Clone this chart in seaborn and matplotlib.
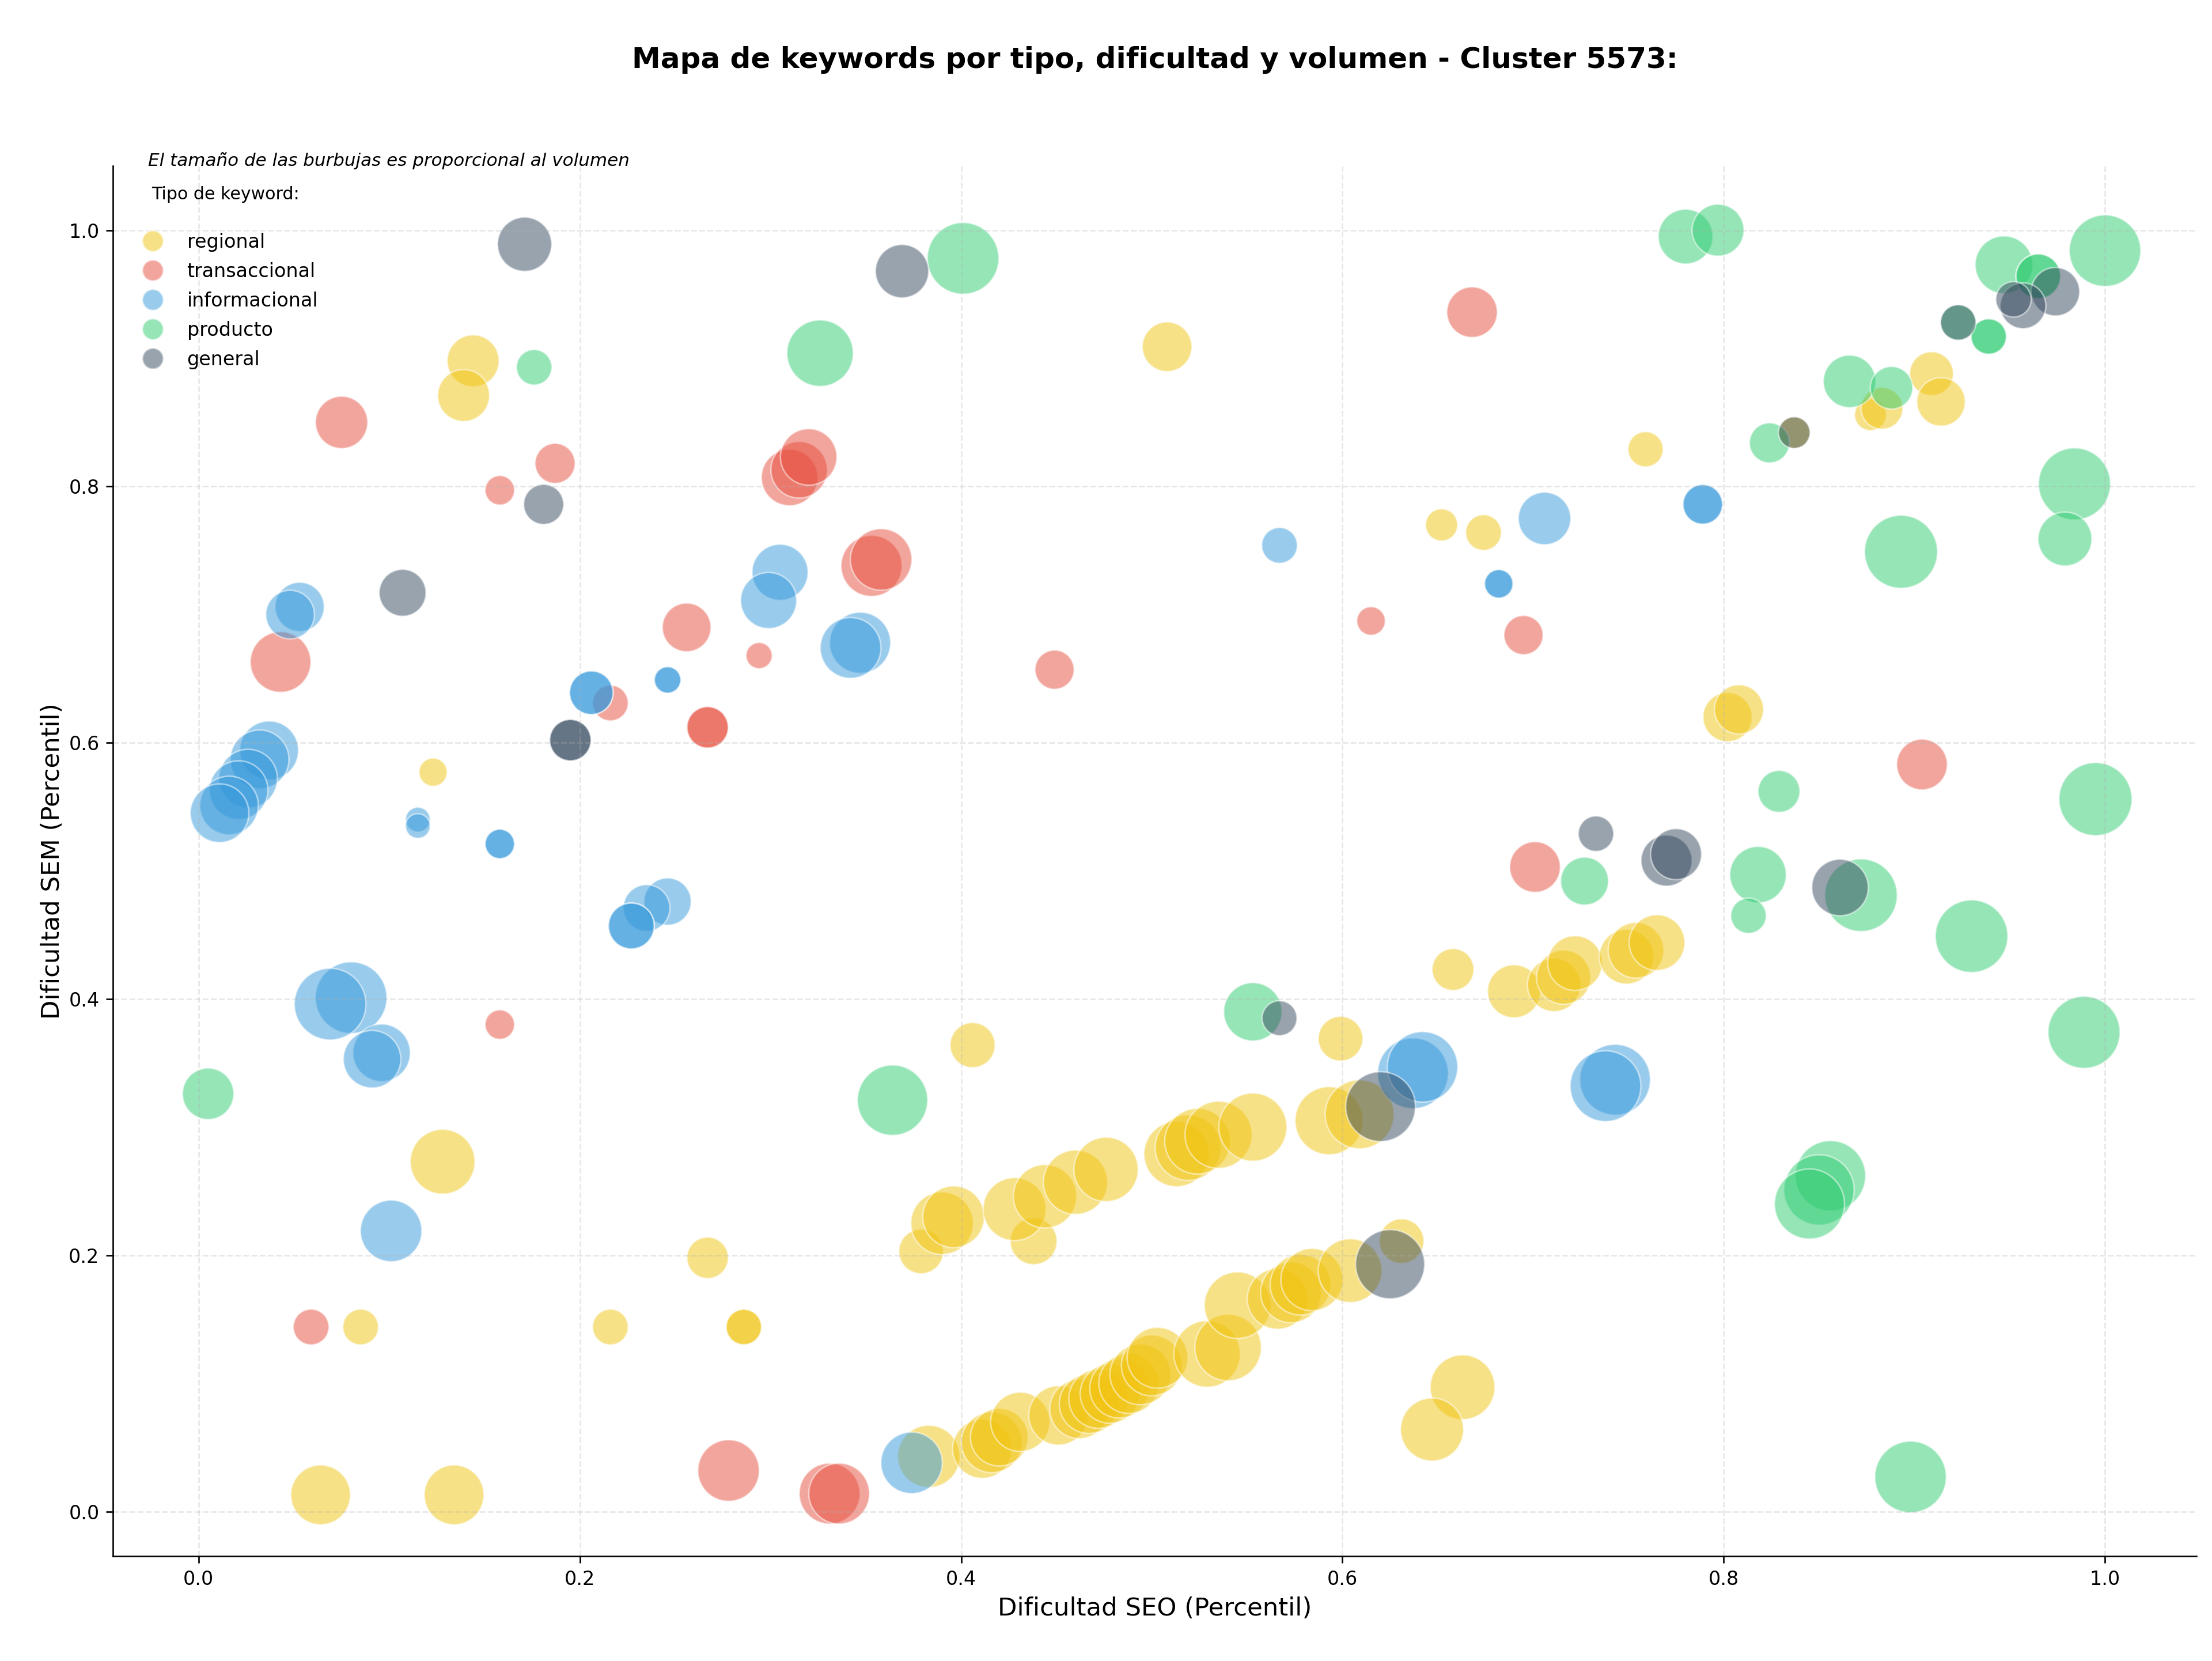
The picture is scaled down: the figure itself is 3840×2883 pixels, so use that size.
import pandas as pd
import numpy as np
import seaborn as sns
import matplotlib.pyplot as plt
from matplotlib.lines import Line2D

# datos (percentiles SEO / SEM y volumen relativo)
tipos = ['regional', 'transaccional', 'informacional', 'producto', 'general']
colores = {'regional': '#f1c40f', 'transaccional': '#e74c3c',
           'informacional': '#3498db', 'producto': '#2ecc71', 'general': '#34495e'}

regional_seo = [0.144, 0.139, 0.508, 0.123, 0.128, 0.267, 0.085, 0.216, 0.286, 0.286, 0.064, 0.134, 0.383,
                0.411, 0.416, 0.420, 0.431, 0.451, 0.462, 0.467, 0.472, 0.478, 0.483, 0.488, 0.494, 0.500,
                0.503, 0.529, 0.540, 0.545, 0.566, 0.573, 0.578, 0.584, 0.604, 0.631, 0.663, 0.647,
                0.379, 0.438, 0.390, 0.396, 0.428, 0.444, 0.460, 0.476, 0.513, 0.519, 0.524, 0.535, 0.553,
                0.593, 0.609,
                0.406, 0.599, 0.658, 0.690, 0.711, 0.716, 0.722, 0.749, 0.754, 0.765, 0.802, 0.808, 0.652,
                0.674, 0.759, 0.877, 0.883, 0.909, 0.914, 0.837]
regional_sem = [0.898, 0.871, 0.909, 0.577, 0.273, 0.198, 0.144, 0.144, 0.144, 0.144, 0.013, 0.013, 0.043,
                0.049, 0.054, 0.058, 0.070, 0.075, 0.080, 0.084, 0.088, 0.092, 0.096, 0.100, 0.107, 0.114,
                0.120, 0.123, 0.128, 0.161, 0.166, 0.171, 0.177, 0.181, 0.188, 0.211, 0.097, 0.064,
                0.203, 0.211, 0.225, 0.230, 0.236, 0.246, 0.257, 0.267, 0.279, 0.284, 0.289, 0.294, 0.300,
                0.305, 0.310,
                0.364, 0.369, 0.423, 0.406, 0.411, 0.417, 0.428, 0.433, 0.438, 0.444, 0.620, 0.626, 0.770,
                0.764, 0.829, 0.856, 0.861, 0.888, 0.866, 0.842]
regional_vol = [730, 730, 665, 215, 1135, 465, 345, 345, 340, 340, 965, 965, 1050,
                950, 1000, 900, 950, 950, 950, 950, 950, 950, 950, 980, 1000, 1000,
                1000, 1200, 1200, 1200, 1000, 1000, 1000, 1050, 1100, 540, 1135, 1075,
                540, 595, 1060, 1030, 1075, 1090, 1120, 1120, 1155, 1170, 1170, 1220, 1255,
                1255, 1285,
                550, 540, 475, 760, 770, 795, 810, 810, 840, 840, 655, 655, 280,
                345, 335, 275, 475, 520, 635, 270]

transaccional_seo = [0.075, 0.187, 0.158, 0.310, 0.315, 0.320, 0.043, 0.256, 0.294, 0.216, 0.267, 0.267,
                     0.158, 0.059, 0.278, 0.331, 0.336, 0.668, 0.353, 0.358, 0.449, 0.615, 0.695, 0.904, 0.701]
transaccional_sem = [0.850, 0.818, 0.797, 0.807, 0.813, 0.823, 0.663, 0.690, 0.668, 0.631, 0.612, 0.612,
                     0.380, 0.144, 0.032, 0.014, 0.014, 0.936, 0.738, 0.743, 0.657, 0.695, 0.684, 0.583, 0.503]
transaccional_vol = [740, 435, 235, 865, 865, 865, 995, 640, 185, 345, 465, 465,
                     235, 345, 1025, 1000, 1000, 690, 1010, 1025, 415, 220, 415, 695, 695]

informacional_seo = [0.305, 0.299, 0.347, 0.342, 0.053, 0.048, 0.246, 0.246, 0.206, 0.206,
                     0.037, 0.032, 0.026, 0.021, 0.016, 0.011, 0.115, 0.115, 0.158, 0.158,
                     0.246, 0.235, 0.227, 0.227, 0.080, 0.069, 0.096, 0.091, 0.101, 0.374,
                     0.637, 0.642, 0.743, 0.738, 0.567, 0.682, 0.682, 0.706, 0.789, 0.789]
informacional_sem = [0.733, 0.711, 0.678, 0.674, 0.706, 0.700, 0.649, 0.649, 0.639, 0.639,
                     0.594, 0.587, 0.572, 0.563, 0.551, 0.545, 0.540, 0.535, 0.521, 0.521,
                     0.476, 0.471, 0.457, 0.457, 0.401, 0.396, 0.358, 0.353, 0.219, 0.038,
                     0.342, 0.347, 0.337, 0.332, 0.754, 0.724, 0.724, 0.775, 0.786, 0.786]
informacional_vol = [850, 850, 1010, 1000, 655, 640, 190, 190, 515, 515,
                     935, 935, 930, 930, 930, 930, 165, 165, 235, 235,
                     605, 590, 570, 570, 1390, 1390, 895, 895, 1025, 1025,
                     1355, 1345, 1355, 1355, 345, 220, 220, 745, 425, 425]

producto_seo = [0.176, 0.401, 0.326, 0.005, 0.364, 0.553, 0.829, 0.995, 0.727, 0.818, 0.813,
                0.872, 0.930, 0.989, 0.856, 0.850, 0.845, 0.898, 0.780, 0.797, 0.824, 0.866,
                0.888, 0.923, 0.939, 0.939, 0.947, 0.965, 0.965, 1.000, 0.984, 0.979, 0.893]
producto_sem = [0.893, 0.978, 0.904, 0.326, 0.321, 0.390, 0.562, 0.556, 0.492, 0.497, 0.465,
                0.481, 0.449, 0.374, 0.262, 0.251, 0.240, 0.027, 0.995, 1.000, 0.834, 0.882,
                0.877, 0.928, 0.917, 0.917, 0.973, 0.964, 0.964, 0.984, 0.802, 0.759, 0.749]
producto_vol = [340, 1390, 1195, 715, 1340, 920, 475, 1445, 620, 865, 340,
                1425, 1425, 1405, 1340, 1340, 1330, 1385, 810, 730, 435, 745,
                490, 340, 340, 340, 900, 540, 540, 1385, 1405, 785, 1445]

general_seo = [0.171, 0.181, 0.107, 0.195, 0.195, 0.369, 0.567, 0.620, 0.625, 0.733, 0.770, 0.775,
               0.861, 0.837, 0.923, 0.974, 0.957, 0.952]
general_sem = [0.989, 0.786, 0.717, 0.602, 0.602, 0.968, 0.385, 0.316, 0.193, 0.529, 0.508, 0.513,
               0.487, 0.842, 0.928, 0.952, 0.941, 0.946]
general_vol = [795, 435, 595, 465, 465, 770, 330, 1320, 1295, 340, 705, 705,
               865, 270, 340, 635, 565, 340]

grupos = [('regional', regional_seo, regional_sem, regional_vol),
          ('transaccional', transaccional_seo, transaccional_sem, transaccional_vol),
          ('informacional', informacional_seo, informacional_sem, informacional_vol),
          ('producto', producto_seo, producto_sem, producto_vol),
          ('general', general_seo, general_sem, general_vol)]

frames = []
for tipo, seo, sem, vol in grupos:
    frames.append(pd.DataFrame({'seo': seo, 'sem': sem, 'volumen': vol, 'tipo': tipo}))
df = pd.concat(frames, ignore_index=True)

vmin, vmax = df['volumen'].min(), df['volumen'].max()

fig, ax = plt.subplots(figsize=(16, 12.0125), dpi=240)
fig.subplots_adjust(left=0.051, right=0.993, bottom=0.063, top=0.900)

sns.scatterplot(data=df, x='seo', y='sem', hue='tipo', hue_order=tipos, palette=colores,
                size='volumen', sizes=(vmin, vmax), size_norm=(vmin, vmax),
                alpha=0.5, edgecolor='white', linewidth=0.8, legend=False, ax=ax)

ax.set_xlim(-0.045, 1.048)
ax.set_ylim(-0.035, 1.05)
ax.grid(True, linestyle='--', alpha=0.3)
sns.despine(ax=ax)

ax.set_title('Mapa de keywords por tipo, dificultad y volumen - Cluster 5573:',
             fontsize=15, fontweight='bold', pad=51)
ax.set_xlabel('Dificultad SEO (Percentil)', fontsize=13)
ax.set_ylabel('Dificultad SEM (Percentil)', fontsize=13, labelpad=2)

ax.text(0.017, 1.004, 'El tamaño de las burbujas es proporcional al volumen',
        transform=ax.transAxes, fontsize=9.3, style='italic', va='center')

handles = [Line2D([0], [0], marker='o', linestyle='', markersize=11,
                  markerfacecolor=colores[t], markeredgecolor='white', alpha=0.5, label=t)
           for t in tipos]
ax.legend(handles=handles, title='Tipo de keyword:\n', loc='upper left', frameon=False,
          fontsize=10, title_fontsize=9, labelspacing=0.54, bbox_to_anchor=(0.0015, 0.998))

fig.savefig('out.png', dpi=240)
